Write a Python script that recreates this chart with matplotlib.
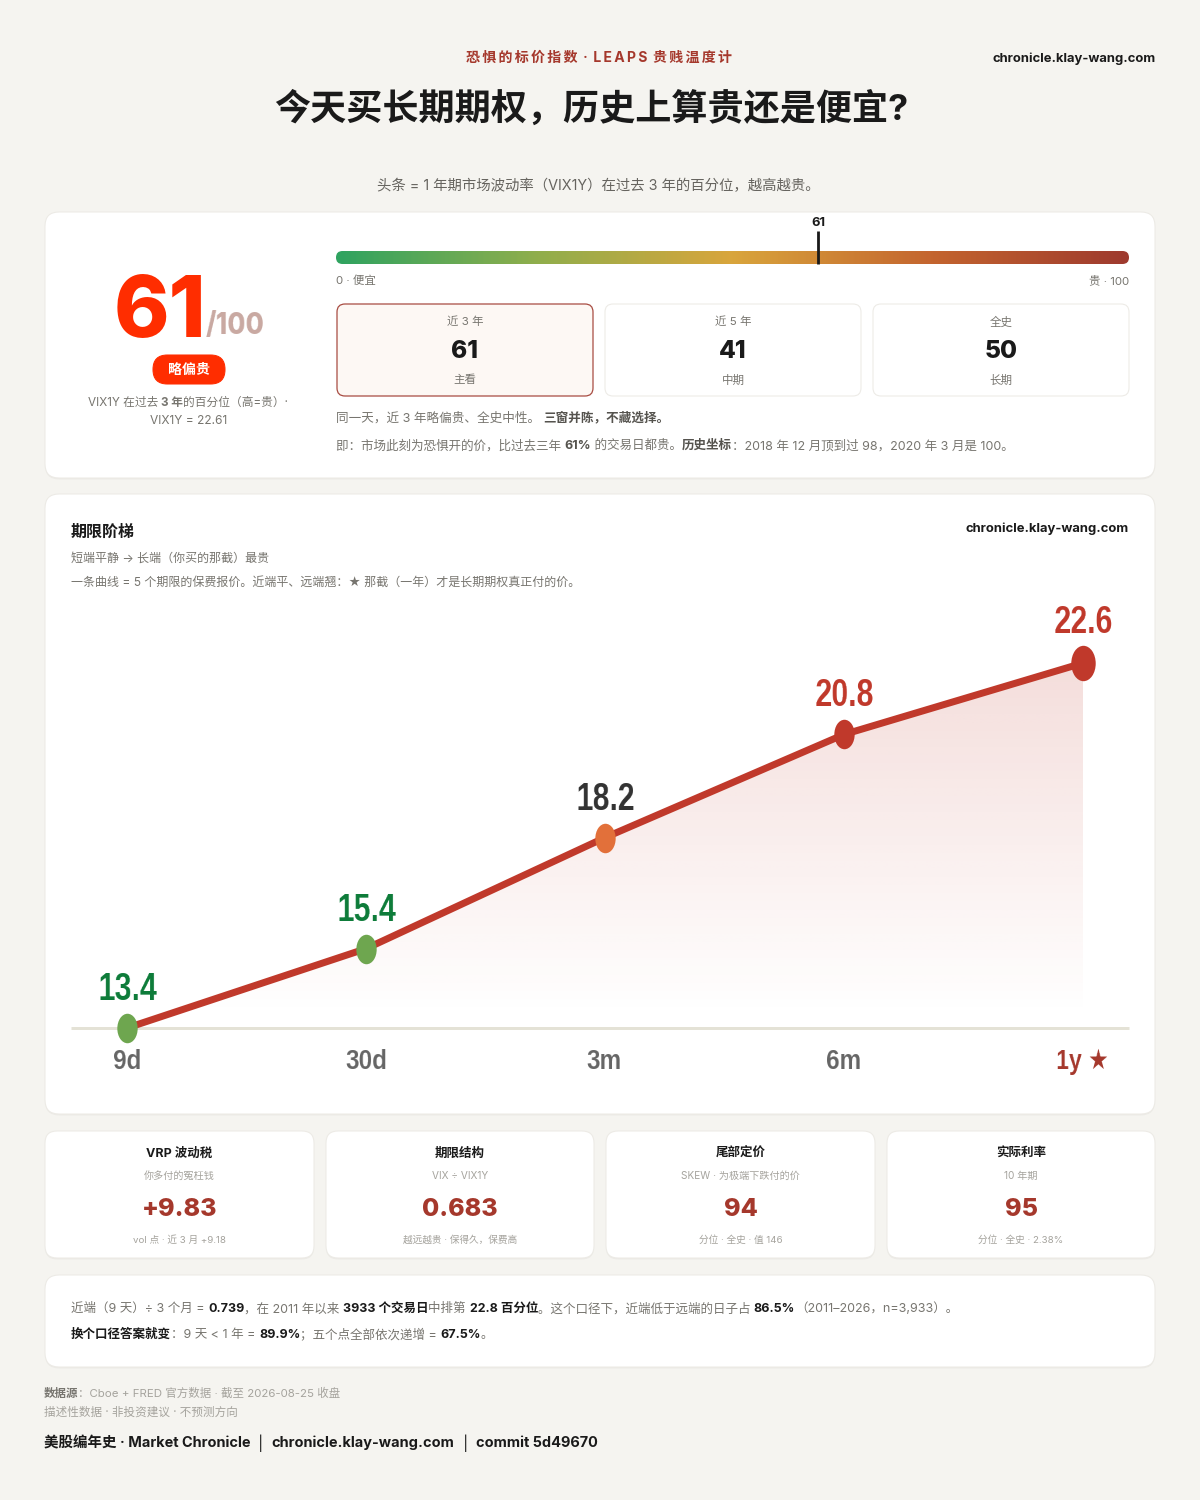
import numpy as np
import matplotlib
matplotlib.use("Agg")
import matplotlib.pyplot as plt
from matplotlib.colors import LinearSegmentedColormap
from matplotlib.patches import FancyBboxPatch
from matplotlib.path import Path
from matplotlib.transforms import Affine2D

UI = ['Inter', 'Noto Sans CJK SC', 'DejaVu Sans']
ARIAL = ['Liberation Sans', 'DejaVu Sans']
plt.rcParams['font.family'] = UI

# data
tenors = ['9d', '30d', '3m', '6m', '1y ★']
vols = [13.4, 15.4, 18.2, 20.8, 22.6]
dot_colors = ['#6ea64f', '#6ea64f', '#e2703a', '#c0392b', '#c0392b']
label_colors = ['#0e7c3a', '#0e7c3a', '#333333', '#c0392b', '#c0392b']
dot_scale = [1, 1, 1, 1, 1.2]

headline = 61
windows = ['近 3 年', '近 5 年', '全史']
window_scores = [61, 41, 50]
window_notes = ['主看', '中期', '长期']

kpi_titles = ['VRP 波动税', '期限结构', '尾部定价', '实际利率']
kpi_subs = ['你多付的冤枉钱', 'VIX ÷ VIX1Y', 'SKEW · 为极端下跌付的价', '10 年期']
kpi_values = ['+9.83', '0.683', '94', '95']
kpi_notes = ['vol 点 · 近 3 月 +9.18', '越远越贵 · 保得久，保费高', '分位 · 全史 · 值 146', '分位 · 全史 · 2.38%']

BG = '#f5f4f0'
INK = '#1a1a1a'
GREY = '#77756f'
LIGHT = '#a5a39d'
BRICK = '#a5382c'

fig = plt.figure(figsize=(12, 15), dpi=100, facecolor=BG)
page = fig.add_axes([0, 0, 1, 1])
page.set_xlim(0, 1200)
page.set_ylim(1500, 0)
page.axis('off')
renderer = fig.canvas.get_renderer()


def pt(px):
    return px * 0.72


def squeeze(f):
    # the reference svg is stretched, so its text is narrower than the font
    def _filter(img, dpi):
        h, w = img.shape[:2]
        nw = max(int(round(w * f)), 1)
        xs = np.linspace(0, w - 1, nw)
        i0 = np.floor(xs).astype(int)
        i1 = np.minimum(i0 + 1, w - 1)
        t = (xs - i0)[None, :, None]
        return img[:, i0] * (1 - t) + img[:, i1] * t, int((w - nw) / 2), 0
    return _filter


def card(x0, y0, x1, y1, r=14, fc='white', ec='#eceae5', lw=0.75, z=1, shadow=False):
    style = f'round,pad={r},rounding_size={r}'
    if shadow:
        page.add_patch(FancyBboxPatch((x0 + r, y0 + r + 1.5), x1 - x0 - 2 * r, y1 - y0 - 2 * r,
                                      boxstyle=style, fc='black', ec='none', alpha=0.035, zorder=z))
    box = FancyBboxPatch((x0 + r, y0 + r), x1 - x0 - 2 * r, y1 - y0 - 2 * r,
                         boxstyle=style, fc=fc, ec=ec, lw=lw, zorder=z)
    page.add_patch(box)
    return box


def label(x, y, s, px, color=INK, bold=False, ha='center', z=5, family=UI):
    weight = bold if not isinstance(bold, bool) else ('bold' if bold else 'normal')
    return page.text(x, y + 4, s, fontsize=pt(px), color=color, ha=ha, va='center',
                     fontweight=weight, zorder=z, family=family)


def width(s, px, bold):
    # measure with a sentinel so that edge spaces count
    a = label(0, 0, s + '|', px, bold=bold)
    b = label(0, 0, '|', px, bold=bold)
    w = a.get_window_extent(renderer).width - b.get_window_extent(renderer).width
    a.remove()
    b.remove()
    return w


def runs(x, y, parts, px, ha='left'):
    # parts = (text, color, bold) drawn one after the other
    total = sum(width(s, px, b) for s, c, b in parts)
    if ha == 'center':
        x -= total / 2
    for s, c, b in parts:
        label(x, y, s, px, color=c, bold=b, ha='left')
        x += width(s, px, b)


# header
label(599, 53.5, '恐\u2009惧\u2009的\u2009标\u2009价\u2009指\u2009数\u2009 · \u2009L\u2009E\u2009A\u2009P\u2009S\u2009 贵\u2009贱\u2009温\u2009度\u2009计',
      14, color=BRICK, bold=True)
label(1156, 55, 'chronicle.klay-wang.com', 13, bold=True, ha='right')
label(591, 105, '今天买长期期权，历史上算贵还是便宜?', 36.1, bold=True)
label(598, 182, '头条 = 1 年期市场波动率（VIX1Y）在过去 3 年的百分位，越高越贵。', 14.4, color='#66645f')

# top card
card(45, 212, 1155, 478, shadow=True)
label(160, 310, str(headline), 84, color='#ff2d00', bold=800)
slash = label(235, 322, '/100', 30, color='#c9a9a2', bold=800)
slash.set_agg_filter(squeeze(0.88))
card(153, 355, 225, 384, r=14.4, fc='#ff2d00', ec='#ff2d00', z=2)
label(189, 366, '略偏贵', 14, color='white', bold=True)
runs(188, 399, [('VIX1Y 在过去 ', GREY, False), ('3 年', GREY, True), ('的百分位（高=贵）·', GREY, False)], 11.7, ha='center')
label(189, 417, 'VIX1Y = 22.61', 12, color=GREY)

# gauge
gauge_cmap = LinearSegmentedColormap.from_list('gauge', ['#2fa360', '#8fae4c', '#d9a53c', '#c4652f', '#9e3a2e'])
img = page.imshow(np.linspace(0, 1, 400)[None, :], cmap=gauge_cmap, aspect='auto',
                  extent=(336, 1129, 264, 251), zorder=2)
clip = FancyBboxPatch((342.5, 257.5), 780, 0, boxstyle='round,pad=6.5,rounding_size=6.5',
                      fc='none', ec='none', transform=page.transData)
page.add_patch(clip)
img.set_clip_path(clip)
page.set_xlim(0, 1200)
page.set_ylim(1500, 0)
gauge_x = 336 + (1129 - 336) * headline / 100 - 1.5
page.plot([gauge_x, gauge_x], [231, 264], color=INK, lw=pt(2.8), solid_capstyle='butt', zorder=3)
label(gauge_x, 219, str(headline), 13, bold=True)
label(336, 277, '0 · 便宜', 11.5, color=GREY, ha='left')
label(1129, 277, '贵 · 100', 11.5, color=GREY, ha='right')

# three windows
win_x = [(337, 593), (605, 861), (873, 1129)]
for i, (x0, x1) in enumerate(win_x):
    if i == 0:
        card(x0, 304, x1, 396, r=8, fc='#fdf8f4', ec='#a84c42', lw=0.9, z=2)
    else:
        card(x0, 304, x1, 396, r=8, z=2)
    mid = (x0 + x1) / 2
    label(mid, 318, windows[i], 11.5, color=GREY)
    label(mid, 347, str(window_scores[i]), 24.5, bold=800)
    label(mid, 376, window_notes[i], 11.5, color=GREY)

DARK = '#55534e'
runs(336, 414, [('同一天，近 3 年略偏贵、全史中性。 ', GREY, False), ('三窗并陈，不藏选择。', DARK, True)], 12.6)
runs(336, 442, [('即：市场此刻为恐惧开的价，比过去三年 ', GREY, False), ('61%', DARK, True),
                (' 的交易日都贵。', GREY, False), ('历史坐标', DARK, True),
                ('：2018 年 12 月顶到过 98，2020 年 3 月是 100。', GREY, False)], 12.55)

# ladder card
card(45, 494, 1155, 1114, shadow=True)
label(71, 528, '期限阶梯', 16, bold=True, ha='left')
label(1129, 525, 'chronicle.klay-wang.com', 13, bold=True, ha='right')
label(71, 555, '短端平静 → 长端（你买的那截）最贵', 12, color=GREY, ha='left')
label(71, 579, '一条曲线 = 5 个期限的保费报价。近端平、远端翘：★ 那截（一年）才是长期期权真正付的价。', 12, color=GREY, ha='left')

# chart axes: 1 index = 239 px, 1 vol = 39.67 px
chart_top, chart_bot = 600, 1028
px_per_vol = 39.67
ax = fig.add_axes([71 / 1200, 1 - chart_bot / 1500, (1129 - 71) / 1200, (chart_bot - chart_top) / 1500])
ax.patch.set_alpha(0)
x = np.arange(len(vols))
xlim = ((71 - 127) / 239, (1129 - 127) / 239)
ylim = (vols[0], vols[0] + (chart_bot - chart_top) / px_per_vol)

poly = ax.fill_between(x, vols, vols[0], color='none', lw=0)
fade = np.zeros((256, 2, 4))
fade[..., :3] = matplotlib.colors.to_rgb('#c0392b')
fade[..., 3] = np.linspace(0.17, 0.0, 256)[:, None]
grad = ax.imshow(fade, extent=(x[0], x[-1], vols[0] + 0.3, vols[-1]), aspect='auto', zorder=1, origin='upper')
grad.set_clip_path(poly.get_paths()[0], ax.transData)
ax.set_xlim(xlim)
ax.set_ylim(ylim)

ax.plot(x, vols, color='#c0392b', lw=pt(7), solid_capstyle='butt', zorder=3, clip_on=False)
oval = Path.unit_circle().transformed(Affine2D().scale(0.69, 1))
for i in x:
    ax.scatter(x[i], vols[i], marker=oval, s=(pt(29.5) * dot_scale[i]) ** 2, color=dot_colors[i], lw=0,
               zorder=4, clip_on=False)
    gap = 40 if i == 4 else 38
    t = ax.text(x[i], vols[i] + gap / px_per_vol, f'{vols[i]:.1f}', ha='center', va='center', fontsize=pt(39),
                fontweight='bold', color=label_colors[i], family=ARIAL, zorder=5, clip_on=False)
    t.set_agg_filter(squeeze(0.78))

for side in ['top', 'left', 'right']:
    ax.spines[side].set_visible(False)
ax.spines['bottom'].set_color('#e4e2d6')
ax.spines['bottom'].set_linewidth(pt(3))
ax.spines['bottom'].set_capstyle('butt')
ax.set_yticks([])
ax.set_xticks(x)
ax.set_xticklabels(tenors, family=ARIAL, fontsize=pt(28), fontweight='bold', color='#666666')
ax.get_xticklabels()[-1].set_color(BRICK)
for tick_label in ax.get_xticklabels()[:-1]:
    tick_label.set_agg_filter(squeeze(0.88))
ax.get_xticklabels()[-1].set_agg_filter(squeeze(0.82))
ax.tick_params(axis='x', length=0, pad=pt(21))

# kpi row
kpi_x = [(45, 314), (326, 594), (606, 875), (887, 1155)]
for i, (x0, x1) in enumerate(kpi_x):
    card(x0, 1131, x1, 1258, r=12, shadow=True)
    mid = (x0 + x1) / 2
    label(mid, 1150, kpi_titles[i], 12.5, bold=True)
    label(mid, 1172, kpi_subs[i], 10.1, color=LIGHT)
    label(mid, 1206, kpi_values[i], 25, color=BRICK, bold=800)
    label(mid, 1236, kpi_notes[i], 9.7, color=LIGHT)

# note card
card(45, 1275, 1155, 1367, shadow=True)
runs(71, 1305, [('近端（9 天）÷ 3 个月 = ', GREY, False), ('0.739', INK, True), ('，在 2011 年以来 ', GREY, False),
                ('3933 个交易日', INK, True), ('中排第 ', GREY, False), ('22.8 百分位', INK, True),
                ('。这个口径下，近端低于远端的日子占 ', GREY, False), ('86.5%', INK, True),
                ('（2011–2026，n=3,933）。', GREY, False)], 12.5)
runs(71, 1331, [('换个口径答案就变', INK, True), ('：9 天 < 1 年 = ', GREY, False), ('89.9%', INK, True),
                ('；五个点全部依次递增 = ', GREY, False), ('67.5%', INK, True), ('。', GREY, False)], 12.5)

# footer
runs(44, 1389, [('数据源', GREY, True), ('：Cboe + FRED 官方数据 · 截至 2026-08-25 收盘', LIGHT, False)], 11.5)
label(44, 1409, '描述性数据 · 非投资建议 · 不预测方向', 11.6, color=LIGHT, ha='left')
runs(44, 1439, [('美股编年史 · Market Chronicle', INK, True), ('  |  ', INK, False), ('chronicle.klay-wang.com', INK, True),
                ('  |  ', INK, False), ('commit 5d49670', INK, True)], 14.5)

fig.savefig('out.png', dpi=100, facecolor=BG)
